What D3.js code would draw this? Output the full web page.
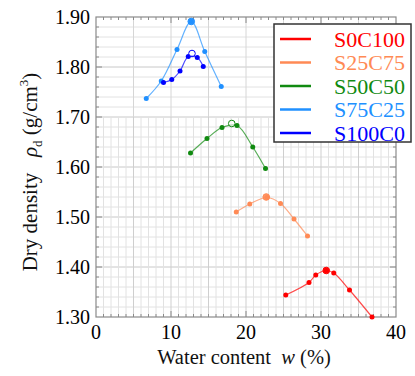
<!DOCTYPE html>
<html>
<head>
<meta charset="utf-8">
<script src="https://cdn.jsdelivr.net/npm/d3@7"></script>
<style>
  body { margin: 0; background: #fff; }
  text { font-family: "Liberation Serif", "Times New Roman", serif; }
</style>
</head>
<body>
<svg id="chart" width="415" height="376"></svg>
<script>
// water content w (%) and dry density (g/cm3) for each mix
const seriesNames = ["S0C100", "S25C75", "S50C50", "S75C25", "S100C0"];
const seriesColors = ["#ff0000", "#ff8a55", "#108a10", "#2090ff", "#0000ff"];

const wS0C100 = [25.3, 28.4, 29.3, 30.7, 31.7, 33.8, 36.8];
const rhoS0C100 = [1.344, 1.369, 1.384, 1.393, 1.388, 1.354, 1.300];
const wS25C75 = [18.7, 20.5, 22.8, 24.6, 26.4, 28.2];
const rhoS25C75 = [1.510, 1.526, 1.539, 1.527, 1.496, 1.462];
const wS50C50 = [12.6, 14.8, 16.8, 18.8, 20.9, 22.6];
const rhoS50C50 = [1.628, 1.657, 1.679, 1.683, 1.640, 1.597];
const wS75C25 = [6.7, 8.7, 10.8, 12.7, 14.5, 16.7];
const rhoS75C25 = [1.737, 1.772, 1.835, 1.891, 1.831, 1.761];
const wS100C0 = [9.0, 10.1, 11.2, 12.3, 13.5, 14.3];
const rhoS100C0 = [1.769, 1.775, 1.792, 1.821, 1.819, 1.801];

// optimum (peak) points
const peakW = [30.7, 22.7, 18.1, 12.7, 12.8];
const peakRho = [1.393, 1.540, 1.687, 1.891, 1.827];

const xTicks = [0, 10, 20, 30, 40];
const yTicks = [1.30, 1.40, 1.50, 1.60, 1.70, 1.80, 1.90];

const allW = [wS0C100, wS25C75, wS50C50, wS75C25, wS100C0];
const allRho = [rhoS0C100, rhoS25C75, rhoS50C50, rhoS75C25, rhoS100C0];

const svg = d3.select("#chart");
const pLeft = 96, pRight = 396, pTop = 17, pBottom = 317;

const x = d3.scaleLinear().domain([0, 40]).range([pLeft, pRight]);
const y = d3.scaleLinear().domain([1.30, 1.90]).range([pBottom, pTop]);

const grid = svg.append("g");

// horizontal grid every 0.02
d3.range(1.32, 1.90, 0.02).forEach(v => {
  const major = Math.abs(v * 10 - Math.round(v * 10)) < 1e-6;
  grid.append("line")
    .attr("x1", pLeft).attr("x2", pRight)
    .attr("y1", y(v)).attr("y2", y(v))
    .attr("stroke", major ? "#c8c8c8" : "#e2e2e2")
    .attr("stroke-width", 1);
});

// vertical minor grid only in lower part
d3.range(1, 40, 1).forEach(v => {
  grid.append("line")
    .attr("x1", x(v)).attr("x2", x(v))
    .attr("y1", y(1.70)).attr("y2", pBottom)
    .attr("stroke", v % 5 === 0 ? "#cfcfcf" : "#e2e2e2")
    .attr("stroke-width", 1);
});
// vertical every 5 in upper part
d3.range(5, 40, 5).forEach(v => {
  grid.append("line")
    .attr("x1", x(v)).attr("x2", x(v))
    .attr("y1", pTop).attr("y2", y(1.70))
    .attr("stroke", "#d6d6d6")
    .attr("stroke-width", 1);
});

// frame
svg.append("rect")
  .attr("x", pLeft).attr("y", pTop)
  .attr("width", pRight - pLeft).attr("height", pBottom - pTop)
  .attr("fill", "none").attr("stroke", "#8a8a8a").attr("stroke-width", 1.2);

// inward ticks
const tk = svg.append("g").attr("stroke", "#8a8a8a").attr("stroke-width", 1);
d3.range(1, 40, 1).forEach(v => {
  const len = v % 10 === 0 ? 6 : 3;
  tk.append("line").attr("x1", x(v)).attr("x2", x(v)).attr("y1", pBottom).attr("y2", pBottom - len);
  tk.append("line").attr("x1", x(v)).attr("x2", x(v)).attr("y1", pTop).attr("y2", pTop + len);
});
d3.range(1.32, 1.90, 0.02).forEach(v => {
  const major = Math.abs(v * 10 - Math.round(v * 10)) < 1e-6;
  const len = major ? 6 : 3;
  tk.append("line").attr("x1", pLeft).attr("x2", pLeft + len).attr("y1", y(v)).attr("y2", y(v));
  tk.append("line").attr("x1", pRight).attr("x2", pRight - len).attr("y1", y(v)).attr("y2", y(v));
});

// tick labels
svg.append("g").selectAll("text").data(xTicks).join("text")
  .attr("x", d => x(d)).attr("y", pBottom + 22)
  .attr("text-anchor", "middle").attr("font-size", 20).attr("fill", "#000")
  .text(d => d);
svg.append("g").selectAll("text").data(yTicks).join("text")
  .attr("x", pLeft - 6).attr("y", d => y(d) + 7)
  .attr("text-anchor", "end").attr("font-size", 20).attr("fill", "#000")
  .text(d => d.toFixed(2));

// axis titles
const xt = svg.append("text")
  .attr("x", 244).attr("y", 364)
  .attr("text-anchor", "middle").attr("font-size", 20.5).attr("fill", "#111")
  .attr("xml:space", "preserve");
xt.append("tspan").text("Water content  ");
xt.append("tspan").attr("font-style", "italic").text("w");
xt.append("tspan").text(" (%)");

const yt = svg.append("text")
  .attr("transform", "translate(37,172) rotate(-90)")
  .attr("text-anchor", "middle").attr("font-size", 21).attr("fill", "#111")
  .attr("xml:space", "preserve");
yt.append("tspan").text("Dry density   ");
yt.append("tspan").attr("font-style", "italic").text("ρ");
yt.append("tspan").attr("font-size", 13).attr("dy", 5).text("d");
yt.append("tspan").attr("dy", -5).text(" (g/cm");
yt.append("tspan").attr("font-size", 13).attr("dy", -9).text("3");
yt.append("tspan").attr("dy", 9).text(")");

// curves and points
const line = d3.line()
  .x(d => x(d[0])).y(d => y(d[1]))
  .curve(d3.curveCatmullRom.alpha(0.5));

// peak marker drawn as an open ring for some series, a larger dot for others
const peakOpen = [false, false, true, false, true];

seriesNames.forEach((name, i) => {
  const pts = allW[i].map((w, j) => [w, allRho[i][j]]);
  const g = svg.append("g");
  g.append("path")
    .attr("d", line(pts))
    .attr("fill", "none")
    .attr("stroke", seriesColors[i])
    .attr("stroke-opacity", 0.7)
    .attr("stroke-width", 1.2);
  g.selectAll("circle").data(pts).join("circle")
    .attr("cx", d => x(d[0])).attr("cy", d => y(d[1]))
    .attr("r", 2.5)
    .attr("fill", seriesColors[i]);
  g.append("circle")
    .attr("cx", x(peakW[i])).attr("cy", y(peakRho[i]))
    .attr("r", peakOpen[i] ? 3.3 : 3.3)
    .attr("fill", peakOpen[i] ? "#fff" : seriesColors[i])
    .attr("fill-opacity", peakOpen[i] ? 0.55 : 0.9)
    .attr("stroke", seriesColors[i]).attr("stroke-width", 1);
});

// legend
const lg = svg.append("g");
lg.append("rect")
  .attr("x", 274).attr("y", 24).attr("width", 137).attr("height", 118)
  .attr("fill", "#fff").attr("stroke", "#333").attr("stroke-width", 1.5);
seriesNames.forEach((name, i) => {
  const yy = 39 + i * 23.5;
  lg.append("line")
    .attr("x1", 280).attr("x2", 311).attr("y1", yy).attr("y2", yy)
    .attr("stroke", seriesColors[i]).attr("stroke-width", 2.5);
  lg.append("text")
    .attr("x", 334).attr("y", yy + 7.5)
    .attr("font-size", 22).attr("fill", seriesColors[i])
    .text(name);
});
</script>
</body>
</html>
